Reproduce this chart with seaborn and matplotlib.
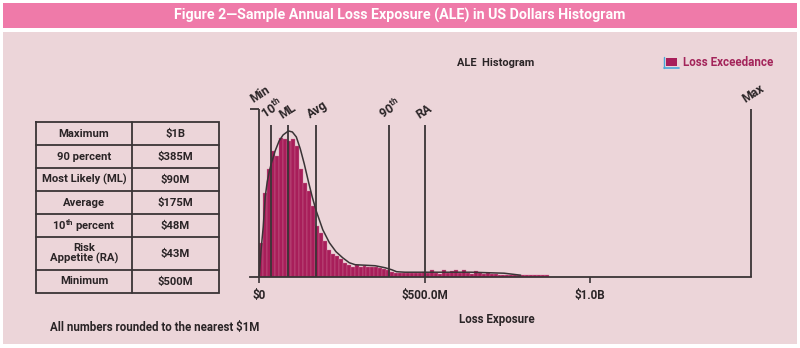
import numpy as np
import pandas as pd
import matplotlib
matplotlib.use("Agg")
import matplotlib.pyplot as plt
import seaborn as sns
from matplotlib.patches import Rectangle
from matplotlib.lines import Line2D

# ---------------- data ----------------
bin_width_m = 12
hist_counts = [34, 84, 108, 126, 121, 139, 138, 136, 138, 131, 108, 94, 86, 71, 51,
               44, 36, 27, 23, 21, 18, 14, 12, 10,
               12, 10, 11, 10, 10, 10, 9, 8, 7, 5,
               4, 4, 4, 4, 4, 4, 4, 5,
               4, 7, 4, 3, 7, 4, 6, 7, 4, 7, 4, 3, 6, 4, 3, 4, 3, 3,
               2, 2, 2, 2, 2, 2, 2, 2, 2, 2, 2, 2, 2]
curve_x_m = [0, 5, 12, 18, 24, 30, 36, 48, 60, 72, 88, 100, 112, 124, 136, 148, 160,
             172, 192, 212, 232, 252, 272, 290, 320, 350, 380, 400, 415, 440, 540,
             640, 740, 790]
curve_y = [0, 25, 50, 80, 95, 105, 113, 126, 136, 142, 146, 145, 140, 128, 113, 96, 80,
           66, 47, 34, 25, 19, 14, 12, 11.5, 11, 9, 7, 5, 4.5, 4.5,
           4.5, 3.5, 1.5]
marker_names = ["Min", "10th", "ML", "Avg", "90th", "RA", "Max"]
marker_values_m = [0, 34, 86, 171, 392, 500, 1486]
tick_values_m = [0, 500, 1000]
tick_labels = ["$0", "$500.0M", "$1.0B"]
table_labels = ["Maximum", "90 percent", "Most Likely (ML)", "Average",
                "10th percent", "Risk\nAppetite (RA)", "Minimum"]
table_values = ["$1B", "$385M", "$90M", "$175M", "$48M", "$43M", "$500M"]

# ---------------- style ----------------
TITLE_PINK = "#ef7aa9"
PANEL = "#ecd5d9"
BAR = "#a81e5a"
DARK = "#2a2426"
LINE = "#3a3436"
LEGEND_TXT = "#a3245a"

sns.set_theme(style="white")
plt.rcParams["font.family"] = ["Roboto", "DejaVu Sans"]
plt.rcParams["font.weight"] = "bold"
plt.rcParams["mathtext.fontset"] = "custom"
plt.rcParams["mathtext.bf"] = "Roboto:bold"
plt.rcParams["mathtext.rm"] = "Roboto:bold"

W, H = 800, 348
fig = plt.figure(figsize=(W / 100, H / 100), dpi=100, facecolor="white")


def fx(x):
    return x / W


def fy(y):
    return 1 - y / H


# background bars
fig.patches.append(Rectangle((fx(3), fy(28)), fx(794), 25 / H, transform=fig.transFigure,
                             facecolor=TITLE_PINK, edgecolor="none", zorder=-5))
fig.patches.append(Rectangle((fx(3), fy(344)), fx(794), 312 / H, transform=fig.transFigure,
                             facecolor=PANEL, edgecolor="none", zorder=-5))
fig.text(0.5, fy(15.5), "Figure 2\u2014Sample Annual Loss Exposure (ALE) in US Dollars Histogram",
         ha="center", va="center", color="white", fontsize=10.3, fontweight="bold")

fig.text(fx(496), fy(63), "ALE  Histogram", ha="center", va="center",
         color=DARK, fontsize=7.9, fontweight="bold")
# legend icon + label
fig.patches.append(Rectangle((fx(666), fy(66)), 11 / W, 8 / H, transform=fig.transFigure,
                             facecolor=BAR, edgecolor="none"))
fig.lines.append(Line2D([fx(664), fx(679)], [fy(67.5), fy(67.5)], transform=fig.transFigure,
                        color="#4aa7d8", lw=1.2))
fig.lines.append(Line2D([fx(664), fx(664)], [fy(67.5), fy(57)], transform=fig.transFigure,
                        color="#4aa7d8", lw=1.0))
fig.text(fx(683), fy(63), "Loss Exceedance", ha="left", va="center",
         color=LEGEND_TXT, fontsize=8.4, fontweight="bold")

# ---------------- histogram ----------------
ax_left, ax_right, ax_bottom, ax_top = 250, 751, 276.7, 109
ax = fig.add_axes([fx(ax_left), fy(ax_bottom), (ax_right - ax_left) / W, (ax_bottom - ax_top) / H])
ax.set_facecolor("none")
ax.set_zorder(2)

n = len(hist_counts)
centers = np.arange(n) * bin_width_m + bin_width_m / 2
df = pd.DataFrame({"loss": centers, "count": np.asarray(hist_counts, dtype=float)})
sns.histplot(data=df, x="loss", weights="count", binwidth=bin_width_m,
             binrange=(0, n * bin_width_m), ax=ax, color=BAR,
             alpha=1.0, edgecolor="#cf7c9d", linewidth=0.25, zorder=2)

curve_df = pd.DataFrame({"loss": curve_x_m, "y": curve_y})
sns.lineplot(data=curve_df, x="loss", y="y", ax=ax, color=LINE, lw=1.1, zorder=4)

ymax = 168
x_min = -28
ax.set_xlim(x_min, marker_values_m[-1])
ax.set_ylim(0, ymax)

short_top = 152
for name, v in zip(marker_names, marker_values_m):
    tall = name in ("Min", "Max")
    top = ymax if tall else short_top
    ax.vlines(v, 0, top, colors=LINE, lw=1.3, zorder=5, clip_on=False)
    label = name
    if name.endswith("th"):
        label = name[:-2] + r"$^{\mathbf{th}}$"
    ax.annotate(label, xy=(v, top), xytext=(-3, 2.5), textcoords="offset points",
                rotation=33, rotation_mode="anchor", ha="left", va="bottom",
                fontsize=8.8, fontweight="bold", color=DARK, annotation_clip=False)
ax.hlines(ymax, x_min, marker_values_m[0], colors=LINE, lw=1.3, clip_on=False)

for s in ["top", "right", "left"]:
    ax.spines[s].set_visible(False)
ax.spines["bottom"].set_color(LINE)
ax.spines["bottom"].set_linewidth(1.3)
ax.set_yticks([])
ax.set_ylabel("")
ax.set_xticks(tick_values_m)
ax.set_xticklabels(tick_labels)
ax.tick_params(axis="x", direction="out", length=4.5, width=1.2, color=LINE, pad=4,
               labelsize=8.4, labelcolor=DARK, bottom=True)
for t in ax.get_xticklabels():
    t.set_fontweight("bold")
ax.set_xlabel("Loss Exposure", fontsize=8.3, fontweight="bold", color=DARK)
ax.xaxis.set_label_coords((497 - ax_left) / (ax_right - ax_left),
                          -(320 - ax_bottom) / (ax_bottom - ax_top))
ax.xaxis.label.set_va("center")

# ---------------- table ----------------
t_left, t_right, t_top, t_bottom, t_mid = 36, 219, 122, 293, 132
tab = fig.add_axes([fx(t_left), fy(t_bottom), (t_right - t_left) / W, (t_bottom - t_top) / H])
tab.set_zorder(2)
tab.set_xlim(t_left, t_right)
tab.set_ylim(t_bottom, t_top)
tab.axis("off")
heights = [23 + 10 * (lab.count("\n")) for lab in table_labels]
y = t_top
lw_t = 1.3
tab.plot([t_left, t_right, t_right, t_left, t_left], [t_top, t_top, t_bottom, t_bottom, t_top],
         color=LINE, lw=lw_t, clip_on=False, solid_joinstyle="miter")
tab.plot([t_mid, t_mid], [t_top, t_bottom], color=LINE, lw=lw_t, clip_on=False)
for lab, val, h in zip(table_labels, table_values, heights):
    yc = y + h / 2
    disp = lab.replace("10th", r"10$^{\mathbf{th}}$")
    tab.text((t_left + t_mid) / 2, yc, disp, ha="center", va="center", fontsize=8.1,
             fontweight="bold", color=DARK, linespacing=1.0)
    tab.text((t_mid + t_right) / 2, yc, val, ha="center", va="center", fontsize=8.1,
             fontweight="bold", color=DARK)
    y += h
    if y < t_bottom - 1:
        tab.plot([t_left, t_right], [y, y], color=LINE, lw=lw_t, clip_on=False)

fig.text(fx(50), fy(327), "All numbers rounded to the nearest $1M", ha="left", va="center",
         fontsize=8.3, fontweight="bold", color=DARK)

fig.savefig("out.png", dpi=100, facecolor="white")
